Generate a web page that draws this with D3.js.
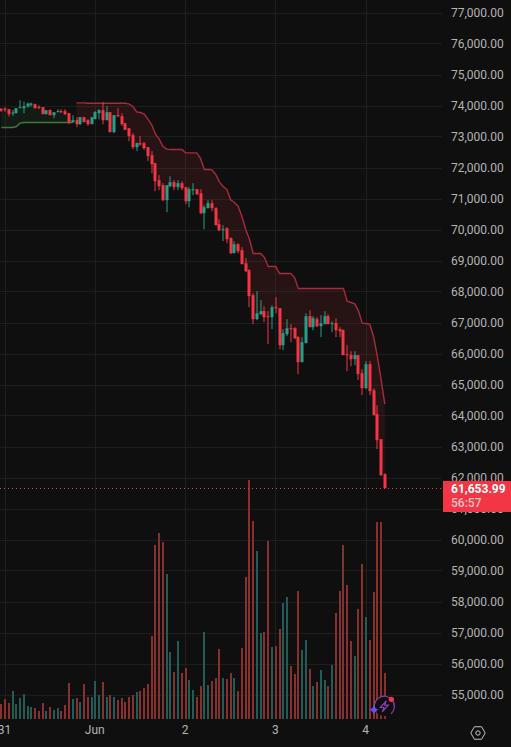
<!DOCTYPE html>
<html>
<head>
<meta charset="utf-8">
<script src="https://cdn.jsdelivr.net/npm/d3@7"></script>
<style>
html,body{margin:0;padding:0;background:#0f0f0f;overflow:hidden}
svg{display:block;font-family:Roboto,"Liberation Sans",sans-serif}
</style>
</head>
<body>
<svg id="chart" width="511" height="747"></svg>
<script>
const firstHour = -25; // hours relative to 1 June 00:00 UTC
const opens = [
73902,73902,73881,73752,73752,73913,73913,73967,74021,74042,
73956,73945,73720,73849,73688,73795,73817,73817,73752,73462,
73526,73397,73623,73526,73397,73559,73752,73849,73526,73784,
73139,73688,73655,73430,73268,73042,72656,72784,72784,72656,
72396,72138,71590,71429,70945,71397,71526,71365,71494,71365,
70913,71268,71300,71171,70526,70687,70848,70687,70171,69978,
70042,69720,69236,69526,69332,68913,68687,67881,67107,67268,
67365,67204,67171,67494,67462,66268,66623,66817,66817,66526,
65720,66333,67204,66849,67107,66881,66946,67204,66946,66978,
66784,66752,65978,65946,65817,65946,65365,64882,65656,64816,
64042,63236,62107];
const highs = [
73902,73945,73881,73860,73913,74171,74128,74096,74096,74064,
74010,73945,73849,73881,73784,73881,73881,73881,73752,73688,
73623,73623,73623,73559,73623,73817,73881,74107,73978,73784,
73688,73913,73752,73430,73268,73107,72806,73010,72827,72656,
72526,72138,71752,71494,71429,71719,71590,71590,71558,71365,
71365,71494,71300,71300,70784,70945,70945,70719,70333,70139,
70074,69752,69623,69558,69429,69074,68719,67945,68010,67720,
67526,67365,67558,67816,67462,66784,67107,66946,66849,66559,
66526,67300,67397,67204,67171,67236,67365,67268,67042,67139,
66849,66784,66268,66075,66075,65946,65495,65753,65753,64881,
64332,63236,62140];
const lows = [
73795,73795,73645,73666,73752,73913,73752,73935,73967,73902,
73881,73720,73720,73688,73591,73795,73752,73688,73397,73451,
73300,73365,73462,73343,73397,73559,73559,73397,73526,73139,
73107,73623,73343,73215,72849,72591,72526,72698,72570,72215,
71816,71236,71268,70913,70558,71365,71268,71268,71268,70816,
70719,71106,71106,70494,70010,70687,70590,70139,69945,69623,
69558,69203,69236,69236,68881,68623,67494,66945,67074,67236,
67010,66301,66784,67300,66139,66107,66559,66365,66462,65333,
65720,66333,66849,66752,66849,66526,66946,66946,66688,66526,
66526,65946,65430,65591,65623,65140,64656,64850,64656,64010,
62914,62050,61654];
const closes = [
73827,73859,73720,73774,73913,73945,73978,74064,74064,73913,
73924,73720,73849,73688,73784,73817,73784,73720,73451,73526,
73397,73623,73462,73397,73623,73784,73849,73526,73784,73139,
73688,73655,73397,73215,73010,72656,72784,72741,72623,72365,
72106,71558,71397,70945,71429,71526,71365,71494,71332,70913,
71300,71300,71139,70526,70719,70848,70687,70139,69978,70010,
69687,69236,69526,69300,68881,68655,67849,67107,67300,67365,
67171,67171,67494,67462,66268,66655,66817,66784,66494,65720,
66365,67204,66849,67139,66881,66978,67204,66946,66978,66752,
66720,65946,65946,65817,65946,65333,64882,65656,64785,64010,
63204,62075,61653.99];
const volumes = [
15,20,16,28,15,21,25,13,12,11,
8,16,8,12,9,11,8,14,36,20,
21,17,35,22,22,38,24,37,22,24,
22,19,21,17,22,24,27,28,31,35,
83,174,186,177,145,67,47,78,46,51,
39,29,22,33,87,34,38,41,70,41,
40,46,41,28,71,142,239,198,168,86,
87,178,72,73,90,116,122,53,45,128,
69,79,50,33,37,49,39,33,54,106,
128,174,134,78,63,110,155,102,79,127,
197,197,46];
// Supertrend: up-trend segment then down-trend segment
const upTrend = [73290,73290,73290,73290,73322,73430,
73451,73451,73451,73451,73451,73451,73451,73451,73451,73451,73451,73451,73451,73451];
const downTrend = [74085,74085,74085,
74075,74075,74075,74075,74075,74075,74075,74075,74075,74075,74075,
74042,73967,73795,73774,73720,73559,73376,73075,72913,72677,72591,
72579,72579,72579,72579,72472,72472,72472,72472,72289,71934,71934,71923,71784,71536,71386,71289,
70956,70870,70752,70419,70010,69687,69225,69225,69225,69096,68805,68805,68805,
68580,68580,68580,68580,68450,
68096,68096,68096,68096,68096,68096,68096,68096,68096,68096,68096,68096,68096,
67687,67645,67602,67376,66978,66968,66946,66558,65913,65171,64365];
const priceTicks = d3.range(55000, 78000, 1000);
const dayTicks = [new Date(Date.UTC(2024,4,31)), new Date(Date.UTC(2024,5,1)), new Date(Date.UTC(2024,5,2)), new Date(Date.UTC(2024,5,3)), new Date(Date.UTC(2024,5,4))];
const dayLabels = ["31","Jun","2","3","4"];
const lastPrice = "61,653.99";
const countdown = "56:57";

const W = 511, H = 747, plotR = 442, volBase = 719;
const HOUR = 3600e3, t0 = Date.UTC(2024,5,1);
const timeOf = i => new Date(t0 + (firstHour + i) * HOUR);
const x = d3.scaleUtc().domain([new Date(Date.UTC(2024,5,1)), new Date(Date.UTC(2024,5,4))]).range([95.3, 366]);
const y = d3.scaleLinear().domain([55000, 77000]).range([694.5, 12.5]);
const yVol = d3.scaleLinear().domain([0, 239]).range([volBase, 480]);

const RED = "#f23645", GREEN = "#2a9d86";
const svg = d3.select("#chart");
svg.append("rect").attr("width", W).attr("height", H).attr("fill", "#0f0f0f");

const grid = svg.append("g").attr("stroke", "#1e1e1e").attr("stroke-width", 1);
grid.selectAll("line.h").data(priceTicks).join("line").attr("class","h")
  .attr("x1", 0).attr("x2", plotR)
  .attr("y1", d => Math.round(y(d)) + .5).attr("y2", d => Math.round(y(d)) + .5);
grid.selectAll("line.v").data(dayTicks).join("line").attr("class","v")
  .attr("y1", 0).attr("y2", volBase)
  .attr("x1", d => Math.floor(x(d)) + .5).attr("x2", d => Math.floor(x(d)) + .5);

// volume
const vol = svg.append("g");
vol.selectAll("rect").data(volumes).join("rect")
  .attr("x", (d,i) => Math.round(x(timeOf(i))) - 1)
  .attr("width", 2)
  .attr("y", d => yVol(d))
  .attr("height", d => volBase - yVol(d))
  .attr("fill", (d,i) => closes[i] >= opens[i] ? "#235c56" : "#863130");

// supertrend bands
const mid = i => (opens[i] + closes[i]) / 2;
function band(values, start, fill, stroke) {
  const pts = values.map((v,k) => ({t: timeOf(start + k), v, m: mid(start + k)}));
  svg.append("path").datum(pts).attr("fill", fill)
    .attr("d", d3.area().x(d => x(d.t)).y0(d => y(d.m)).y1(d => y(d.v)));
  svg.append("path").datum(pts).attr("fill", "none").attr("stroke", stroke).attr("stroke-width", 1.4)
    .attr("d", d3.line().x(d => x(d.t)).y(d => y(d.v)));
}
band(upTrend, 0, "rgba(60,160,80,0.09)", "#3f7a3a");
band(downTrend, upTrend.length, "rgba(242,54,69,0.10)", "#a62c3d");

// candles
const candle = svg.append("g").selectAll("g").data(opens).join("g")
  .attr("fill", (d,i) => closes[i] >= opens[i] ? GREEN : RED);
candle.append("rect")
  .attr("x", (d,i) => Math.round(x(timeOf(i))) - .5)
  .attr("width", 1)
  .attr("y", (d,i) => y(highs[i]))
  .attr("height", (d,i) => Math.max(1, y(lows[i]) - y(highs[i])));
candle.append("rect")
  .attr("x", (d,i) => Math.round(x(timeOf(i))) - 1.5)
  .attr("width", 3)
  .attr("y", (d,i) => y(Math.max(opens[i], closes[i])))
  .attr("height", (d,i) => Math.max(1, Math.abs(y(opens[i]) - y(closes[i]))));

// last price line
svg.append("line").attr("x1", 0).attr("x2", 443)
  .attr("y1", Math.round(y(closes[closes.length-1])) + .5).attr("y2", Math.round(y(closes[closes.length-1])) + .5)
  .attr("stroke", RED).attr("stroke-width", 1).attr("stroke-dasharray", "1 3");

// axes
const axisR = svg.append("g").attr("transform", `translate(${plotR},0)`)
  .call(d3.axisRight(y).tickValues(priceTicks).tickFormat(d3.format(",.2f")).tickSize(0).tickPadding(9));
axisR.select(".domain").remove();
axisR.selectAll("text").attr("fill", "#b4b4b4").style("font-size", "12px").style("font-family", "Roboto,sans-serif");

const axisB = svg.append("g").attr("transform", `translate(-1,${volBase + 4})`)
  .call(d3.axisBottom(x).tickValues(dayTicks).tickFormat((d,i) => dayLabels[i]).tickSize(0).tickPadding(2));
axisB.select(".domain").remove();
axisB.selectAll("text").attr("fill", "#b4b4b4").style("font-size", "12px").style("font-family", "Roboto,sans-serif");

// last price tag
svg.append("rect").attr("x", 443).attr("y", 481).attr("width", 68).attr("height", 31).attr("fill", "#f23645");
svg.append("text").attr("x", 451).attr("y", 493).attr("fill", "#fff").attr("font-size", 12).attr("font-weight", 700).text(lastPrice);
svg.append("text").attr("x", 451).attr("y", 507).attr("fill", "#fbc4c9").attr("font-size", 12).attr("font-weight", 500).text(countdown);

// assistant badge
const badge = svg.append("g").attr("transform", "translate(384.3,706.3)");
badge.append("circle").attr("r", 10).attr("fill", "#0f0f0f").attr("stroke", "none");
badge.append("path").attr("d", d3.arc()({innerRadius: 9.5, outerRadius: 10.7, startAngle: -2.2, endAngle: 2.4})).attr("fill", "#8b3fb3");
badge.append("path").attr("d", "M2-5.5L-4 1.2H-.3L-2 5.5L4-1.2H.3Z").attr("fill", "none").attr("stroke", "#8b3fb3").attr("stroke-width", 1.2);
badge.append("circle").attr("cx", 7).attr("cy", -7).attr("r", 2.6).attr("fill", "#f23645");
badge.append("path").attr("transform", "translate(-10.4,3.4)")
  .attr("d", "M0-5Q.8-.8 5 0Q.8.8 0 5Q-.8.8-5 0Q-.8-.8 0-5Z").attr("fill", "#6a4cff");

// settings hexagon
const hexR = 7.2;
const hex = d3.range(6).map(k => [478 + hexR * Math.cos(k * Math.PI / 3), 733 + hexR * Math.sin(k * Math.PI / 3)]);
svg.append("path").attr("d", d3.line().curve(d3.curveLinearClosed)(hex)).attr("fill", "none").attr("stroke", "#c4c4c4").attr("stroke-width", 1);
svg.append("circle").attr("cx", 478).attr("cy", 733).attr("r", 2.2).attr("fill", "none").attr("stroke", "#c4c4c4");
</script>
</body>
</html>
